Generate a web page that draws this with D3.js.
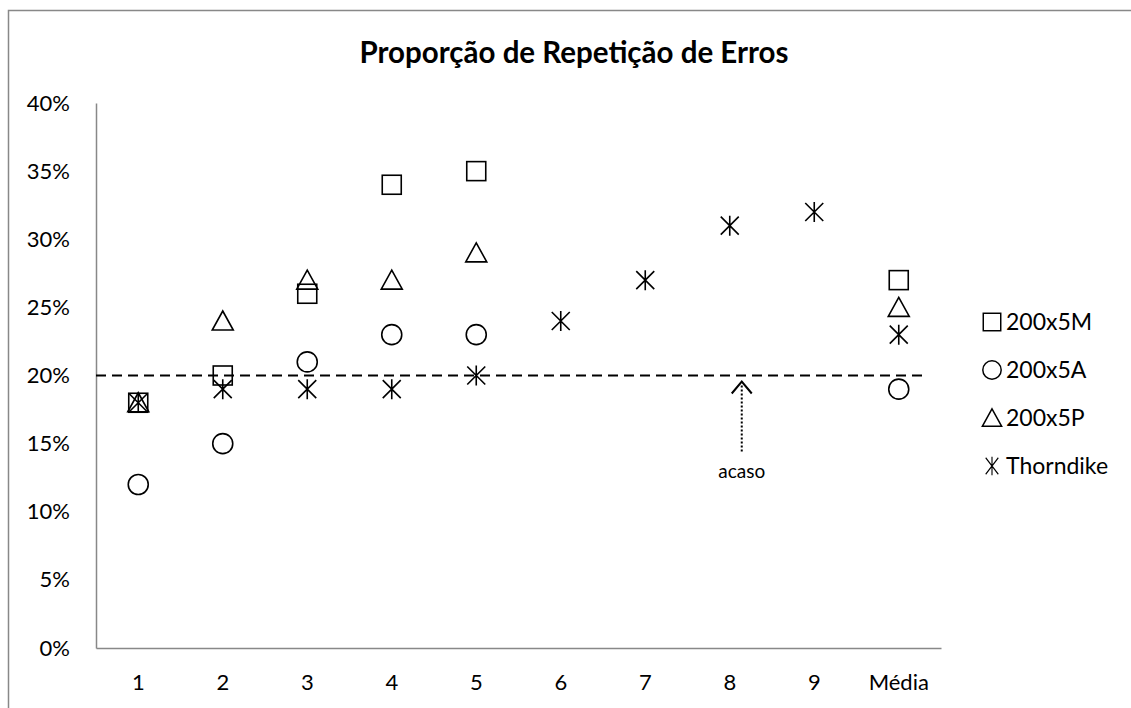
<!DOCTYPE html>
<html>
<head>
<meta charset="utf-8">
<script src="https://cdn.jsdelivr.net/npm/d3@7"></script>
<style>
  body { margin: 0; background: #fff; }
  text { font-family: Lato, "Open Sans", sans-serif; fill: #000; }
</style>
</head>
<body>
<div id="chart"></div>
<script>
// categories and series (percent)
var categories = ["1", "2", "3", "4", "5", "6", "7", "8", "9", "Média"];
var serM = [18, 20, 26, 34, 35, null, null, null, null, 27];
var serA = [12, 15, 21, 23, 23, null, null, null, null, 19];
var serP = [18, 24, 27, 27, 29, null, null, null, null, 25];
var serT = [18, 19, 19, 19, 20, 24, 27, 31, 32, 23];
var seriesNames = ["200x5M", "200x5A", "200x5P", "Thorndike"];
var yTicks = [0, 5, 10, 15, 20, 25, 30, 35, 40];
var chance = 20;

var W = 1131, H = 708;
var svg = d3.select("#chart").append("svg").attr("width", W).attr("height", H);

// outer chart border (top and left visible)
svg.append("path").attr("d", "M8.5,708 V10.5 H1131")
  .attr("fill", "none").attr("stroke", "#888").attr("stroke-width", 1.5);

var x = d3.scaleBand().domain(categories).range([96, 941]);
var y = d3.scaleLinear().domain([0, 40]).range([648, 103]);

svg.append("text").attr("x", 574).attr("y", 63).attr("text-anchor", "middle")
  .style("font-size", "29.5px").style("font-weight", "bold")
  .text("Proporção de Repetição de Erros");

// axes
var yAxis = svg.append("g").attr("transform", "translate(96,0)")
  .call(d3.axisLeft(y).tickValues(yTicks).tickSize(0).tickPadding(26).tickFormat(function(d){ return d + "%"; }));
var xAxis = svg.append("g").attr("transform", "translate(0,648)")
  .call(d3.axisBottom(x).tickSize(0).tickPadding(26));
[yAxis, xAxis].forEach(function(a){
  a.select(".domain").attr("stroke", "#888").attr("stroke-width", 1.5);
  a.selectAll("text").style("font-size", "22px").style("font-family", "Lato, 'Open Sans', sans-serif").attr("fill", "#000");
});

// chance line
svg.append("line").attr("x1", 96).attr("x2", 928).attr("y1", y(chance)).attr("y2", y(chance))
  .attr("stroke", "#000").attr("stroke-width", 2).attr("stroke-dasharray", "10,6");

// arrow "acaso"
var ax = x("8") + x.bandwidth() / 2 + 12;
svg.append("line").attr("x1", ax).attr("x2", ax).attr("y1", y(chance) + 76).attr("y2", y(chance) + 8)
  .attr("stroke", "#000").attr("stroke-width", 2).attr("stroke-dasharray", "2,2");
svg.append("path").attr("d", "M" + (ax - 10) + "," + (y(chance) + 18) + " L" + ax + "," + (y(chance) + 6) + " L" + (ax + 10) + "," + (y(chance) + 18))
  .attr("fill", "none").attr("stroke", "#000").attr("stroke-width", 2);
svg.append("text").attr("x", ax).attr("y", y(chance) + 102).attr("text-anchor", "middle")
  .style("font-size", "19px").text("acaso");

// marker drawers
function marker(g, type) {
  if (type === 0) {
    g.append("rect").attr("x", -9.5).attr("y", -9.5).attr("width", 19).attr("height", 19)
      .attr("fill", "none").attr("stroke", "#000").attr("stroke-width", 1.6);
  } else if (type === 1) {
    g.append("circle").attr("r", 10).attr("fill", "none").attr("stroke", "#000").attr("stroke-width", 1.6);
  } else if (type === 2) {
    g.append("path").attr("d", "M0,-10 L10.5,9 L-10.5,9 Z").attr("fill", "none").attr("stroke", "#000").attr("stroke-width", 1.6);
  } else {
    g.append("path").attr("d", "M-9,-9 L9,9 M9,-9 L-9,9 M0,-10 V10")
      .attr("fill", "none").attr("stroke", "#000").attr("stroke-width", 1.6);
  }
}

var allSeries = [serM, serA, serP, serT];
allSeries.forEach(function(vals, si) {
  vals.forEach(function(v, i) {
    if (v == null) return;
    var g = svg.append("g")
      .attr("transform", "translate(" + (x(categories[i]) + x.bandwidth() / 2) + "," + y(v) + ")");
    marker(g, si);
  });
});

// legend
seriesNames.forEach(function(name, i) {
  var ly = 322 + i * 48;
  var g = svg.append("g").attr("transform", "translate(992," + ly + ")");
  g.append("g").attr("transform", i === 3 ? "scale(0.7,0.92)" : "scale(0.92)").call(function(s){ marker(s, i); });
  svg.append("text").attr("x", 1006).attr("y", ly + 8).style("font-size", "23px").text(name);
});
</script>
</body>
</html>
